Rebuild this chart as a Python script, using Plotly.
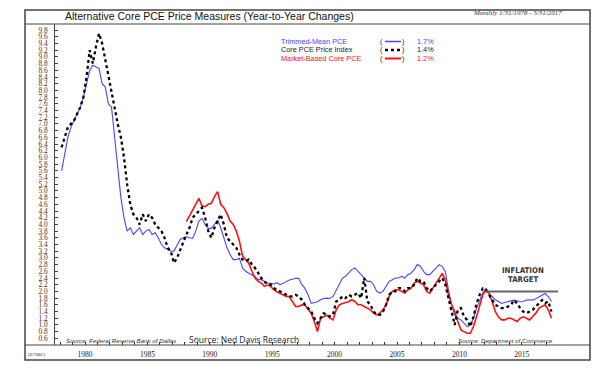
import plotly.graph_objects as go

W, H = 613, 370

# ---------------- data (quarterly readings: Feb, May, Aug, Nov) ----------------
years = list(range(1978, 2018))
month_pos = [1.5 / 12, 4.5 / 12, 7.5 / 12, 10.5 / 12]
dates = [y + m for y in years for m in month_pos][:158]   # through May 2017

trimmed_mean = [
    5.6, 6.1, 6.6, 6.9,      # 1978
    7.1, 7.3, 7.5, 7.8,      # 1979
    8.2, 8.6, 8.75, 8.7,     # 1980
    8.65, 8.2, 8.1, 7.6,     # 1981
    7.5, 6.6, 5.6, 4.8,      # 1982
    4.2, 3.8, 3.9, 3.7,      # 1983
    3.8, 3.9, 3.7, 3.8,      # 1984
    3.85, 3.7, 3.75, 3.6,    # 1985
    3.4, 3.3, 3.25, 3.2,     # 1986
    3.2, 3.4, 3.55, 3.6,     # 1987
    3.63, 3.6, 3.58, 3.8,    # 1988
    4.1, 4.18, 4.0, 3.88,    # 1989
    3.88, 4.0, 4.13, 3.9,    # 1990
    3.6, 3.3, 3.1, 2.95,     # 1991
    2.95, 2.99, 2.7, 2.6,    # 1992
    2.54, 2.5, 2.44, 2.35,   # 1993
    2.35, 2.3, 2.25, 2.24,   # 1994
    2.22, 2.26, 2.2, 2.24,   # 1995
    2.3, 2.34, 2.36, 2.39,   # 1996
    2.39, 2.2, 2.09, 1.9,    # 1997
    1.64, 1.66, 1.69, 1.75,  # 1998
    1.79, 1.8, 1.79, 1.85,   # 1999
    2.04, 2.2, 2.39, 2.45,   # 2000
    2.55, 2.65, 2.7, 2.6,    # 2001
    2.5, 2.4, 2.3, 2.3,      # 2002
    2.2, 2.0, 1.95, 2.0,     # 2003
    2.15, 2.3, 2.35, 2.4,    # 2004
    2.4, 2.45, 2.4, 2.5,     # 2005
    2.55, 2.65, 2.8, 2.75,   # 2006
    2.6, 2.5, 2.5, 2.6,      # 2007
    2.7, 2.8, 2.74, 2.59,    # 2008
    2.04, 1.6, 1.3, 1.2,     # 2009
    1.15, 1.05, 0.95, 1.0,   # 2010
    1.2, 1.5, 1.74, 1.95,    # 2011
    2.09, 1.94, 1.85, 1.75,  # 2012
    1.7, 1.64, 1.67, 1.69,   # 2013
    1.7, 1.74, 1.72, 1.69,   # 2014
    1.7, 1.74, 1.75, 1.74,   # 2015
    1.78, 1.84, 1.9, 1.94,   # 2016
    1.84, 1.7,               # 2017
]

core_pce = [
    6.3, 6.6, 6.9, 7.0,      # 1978
    7.1, 7.3, 7.5, 7.8,      # 1979
    8.4, 9.2, 8.8, 9.3,      # 1980
    9.7, 9.4, 8.9, 8.5,      # 1981
    8.0, 7.5, 7.0, 6.6,      # 1982
    6.0, 5.2, 4.6, 4.3,      # 1983
    4.2, 4.0, 4.3, 4.1,      # 1984
    4.3, 4.2, 4.0, 3.9,      # 1985
    3.8, 3.6, 3.3, 3.2,      # 1986
    2.85, 3.0, 3.25, 3.5,    # 1987
    3.7, 3.9, 4.2, 4.3,      # 1988
    4.4, 4.5, 4.2, 3.8,      # 1989
    3.6, 3.9, 4.1, 4.3,      # 1990
    4.0, 3.6, 3.5, 3.4,      # 1991
    3.3, 3.1, 2.95, 2.9,     # 1992
    2.95, 2.8, 2.7, 2.55,    # 1993
    2.4, 2.3, 2.2, 2.2,      # 1994
    2.1, 2.05, 2.0, 1.95,    # 1995
    1.9, 1.85, 1.85, 1.9,    # 1996
    1.85, 1.75, 1.6, 1.5,    # 1997
    1.4, 1.2, 1.05, 1.2,     # 1998
    1.35, 1.3, 1.25, 1.3,    # 1999
    1.7, 1.75, 1.85, 1.8,    # 2000
    1.9, 1.85, 1.9, 1.95,    # 2001
    1.8, 2.4, 1.7, 1.6,      # 2002
    1.4, 1.3, 1.3, 1.4,      # 2003
    1.6, 1.9, 2.0, 2.0,      # 2004
    2.1, 2.1, 2.0, 2.1,      # 2005
    2.1, 2.2, 2.4, 2.3,      # 2006
    2.3, 2.1, 2.0, 2.1,      # 2007
    2.2, 2.3, 2.4, 2.2,      # 2008
    1.8, 1.35, 1.0, 1.45,    # 2009
    1.5, 1.24, 1.15, 0.95,   # 2010
    1.24, 1.64, 1.9, 2.09,   # 2011
    2.05, 1.9, 1.75, 1.6,    # 2012
    1.55, 1.5, 1.5, 1.55,    # 2013
    1.59, 1.74, 1.64, 1.5,   # 2014
    1.39, 1.35, 1.4, 1.45,   # 2015
    1.55, 1.64, 1.74, 1.65,  # 2016
    1.7, 1.4,                # 2017
]

market_based = [None] * 40 + [   # series begins 1988
    4.08, 4.25, 4.43, 4.6,   # 1988
    4.78, 4.55, 4.53, 4.6,   # 1989
    4.63, 4.83, 4.98, 4.6,   # 1990
    4.5, 4.33, 4.1, 4.0,     # 1991
    3.8, 3.5, 3.05, 2.95,    # 1992
    2.84, 2.6, 2.4, 2.3,     # 1993
    2.25, 2.15, 2.19, 2.15,  # 1994
    2.05, 1.99, 1.95, 1.9,   # 1995
    1.85, 1.84, 1.7, 1.55,   # 1996
    1.55, 1.6, 1.59, 1.45,   # 1997
    1.35, 1.1, 0.8, 1.2,     # 1998
    1.24, 1.29, 1.2, 1.15,   # 1999
    1.45, 1.6, 1.64, 1.67,   # 2000
    1.69, 1.75, 1.7, 1.6,    # 2001
    1.6, 1.55, 1.5, 1.45,    # 2002
    1.35, 1.3, 1.35, 1.45,   # 2003
    1.6, 1.85, 2.0, 2.05,    # 2004
    2.05, 2.0, 1.95, 2.05,   # 2005
    2.1, 2.25, 2.3, 2.25,    # 2006
    2.2, 2.0, 1.95, 2.1,     # 2007
    2.25, 2.4, 2.54, 2.34,   # 2008
    1.9, 1.6, 1.4, 1.1,      # 2009
    0.85, 0.8, 0.75, 0.75,   # 2010
    0.95, 1.25, 1.6, 1.9,    # 2011
    2.04, 1.94, 1.7, 1.4,    # 2012
    1.24, 1.15, 1.15, 1.2,   # 2013
    1.2, 1.15, 1.1, 1.2,     # 2014
    1.24, 1.2, 1.15, 1.25,   # 2015
    1.35, 1.5, 1.54, 1.6,    # 2016
    1.45, 1.2,               # 2017
]

series_names = ["Trimmed-Mean PCE", "Core PCE Price Index", "Market-Based Core PCE"]
latest_labels = ["1.7%", "1.4%", "1.2%"]
y_ticks = [round(0.6 + 0.2 * i, 1) for i in range(47)]
year_ticks = list(range(1978, 2018))
year_labels = [str(y) if y % 5 == 0 else "" for y in year_ticks]
inflation_target = 2.0

# ---------------- geometry helpers ----------------
def px(x):
    return x / W

def py(y):
    return 1 - y / H

BLUE = "#4646ff"
RED = "#ff1010"
BLACK = "#000000"

fig = go.Figure()
fig.add_trace(go.Scatter(x=dates, y=trimmed_mean, mode="lines",
                         line=dict(color=BLUE, width=1.1), name=series_names[0]))
fig.add_trace(go.Scatter(x=dates, y=market_based, mode="lines",
                         line=dict(color=RED, width=1.6), name=series_names[2]))
fig.add_trace(go.Scatter(x=dates, y=core_pce, mode="lines",
                         line=dict(color=BLACK, width=2.3, dash="dot"), name=series_names[1]))

XL, XR = 55, 558
YT, YB = 24, 345
x_range = [1980 + (XL - 85) / 12.48, 1980 + (XR - 85) / 12.48]
y_range = [0.6 - (YB - 338.3) / 33.5, 0.6 + (338.3 - YT) / 33.5]

serif = "Liberation Serif"
sans = "Liberation Sans"
tick_txt = [f"{v:.1f}" for v in y_ticks]

fig.update_layout(
    width=W, height=H, margin=dict(l=0, r=0, t=0, b=0),
    paper_bgcolor="white", plot_bgcolor="white", showlegend=False,
    xaxis=dict(domain=[px(XL), px(XR)], range=x_range, showgrid=False, zeroline=False,
               showline=False, tickmode="array", tickvals=year_ticks, ticktext=year_labels,
               ticks="inside", ticklen=3, tickcolor="#333", tickwidth=1,
               tickfont=dict(family=serif, size=7.5, color="#222"), ticklabelstandoff=3),
    yaxis=dict(domain=[py(YB), py(YT)], range=y_range, showgrid=False, zeroline=False,
               showline=True, linecolor="#444", linewidth=1,
               tickmode="array", tickvals=y_ticks, ticktext=tick_txt,
               ticks="inside", ticklen=3, tickcolor="#444",
               tickfont=dict(family=serif, size=7.3, color="#333"), ticklabelstandoff=5),
    yaxis2=dict(overlaying="y", side="right", anchor="x", range=y_range, showgrid=False,
                zeroline=False, showline=True, linecolor="#444", linewidth=1,
                tickmode="array", tickvals=y_ticks, ticktext=tick_txt,
                ticks="inside", ticklen=3, tickcolor="#444",
                tickfont=dict(family=serif, size=7.3, color="#333"), ticklabelstandoff=5),
)

shapes = []
# outer frame and horizontal rules
shapes.append(dict(type="rect", xref="paper", yref="paper", x0=px(25), x1=px(590),
                   y0=py(360), y1=py(10), line=dict(color="#444", width=1.5)))
for yy in (YT, YB):
    shapes.append(dict(type="line", xref="paper", yref="paper", x0=px(25), x1=px(590),
                       y0=py(yy), y1=py(yy), line=dict(color="#444", width=1)))
# inflation target line
shapes.append(dict(type="line", xref="x", yref="y", x0=2012.1, x1=x_range[1],
                   y0=inflation_target, y1=inflation_target, line=dict(color="#666", width=2)))
# legend line samples
leg_y = [41.5, 50, 58.5]
leg_cols = [BLUE, BLACK, RED]
leg_dash = ["solid", "dot", "solid"]
leg_w = [1.5, 2.4, 2]
for i in range(3):
    shapes.append(dict(type="line", xref="paper", yref="paper", x0=px(385), x1=px(401),
                       y0=py(leg_y[i]), y1=py(leg_y[i]),
                       line=dict(color=leg_cols[i], width=leg_w[i], dash=leg_dash[i])))
fig.update_layout(shapes=shapes)

ann = []
def text(x, y, s, size, color="#222", family=sans, xanchor="left", italic=False, bold=False):
    if bold:
        s = f"<b>{s}</b>"
    if italic:
        s = f"<i>{s}</i>"
    ann.append(dict(x=px(x), y=py(y), xref="paper", yref="paper", text=s, showarrow=False,
                    xanchor=xanchor, yanchor="middle", borderpad=0,
                    font=dict(family=family, size=size, color=color)))

text(64, 16.5, "Alternative Core PCE Price Measures (Year-to-Year Changes)", 10.5, "#111")
text(563, 13.5, "Monthly 1/31/1978 - 5/31/2017", 7, "#333", serif, "right", italic=True)
for i in range(3):
    text(280, leg_y[i], series_names[i], 7.3, leg_cols[i] if i != 1 else "#222")
    text(379, leg_y[i], "(", 7.3, "#222")
    text(401, leg_y[i], ")", 7.3, "#222")
    text(416, leg_y[i], latest_labels[i], 7.3, leg_cols[i] if i != 1 else "#222")
text(65, 340.5, "Source: Federal Reserve Bank of Dallas", 6.2, "#333", sans, italic=True)
text(188, 339.5, "Source: Ned Davis Research", 8.5, "#222", "Open Sans")
text(554, 340.5, "Source: Department of Commerce", 6.2, "#333", sans, "right", italic=True)
text(27, 354, "(E708C)", 5, "#333", serif)
narrow = "DejaVu Sans Condensed, Liberation Sans Narrow, Liberation Sans"
text(523, 270, "INFLATION", 7.8, "#333", narrow, "center", bold=True)
text(523, 279.5, "TARGET", 7.8, "#333", narrow, "center", bold=True)

fig.update_layout(annotations=ann)
fig.write_html("out.html", config={"displayModeBar": False},
               post_script="document.body.style.margin='0px';")
